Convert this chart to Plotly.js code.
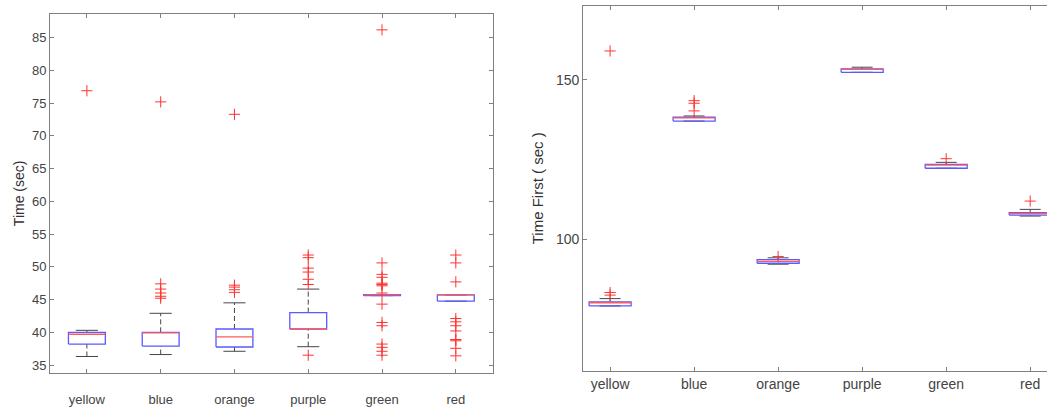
<!DOCTYPE html>
<html><head><meta charset="utf-8">
<script src="https://cdn.plot.ly/plotly-3.0.1.min.js"></script>
<style>html,body{margin:0;padding:0;overflow:hidden;background:#fff}#chart{width:1047px;height:411px}</style>
</head><body><div id="chart"></div>
<script>
// ---- data ----
const categories = ['yellow', 'blue', 'orange', 'purple', 'green', 'red'];

// Left chart: Time (sec)
const timeQ1        = [38.2, 37.9, 37.75, 40.5, 45.6, 44.75];
const timeMedian    = [39.7, 39.9, 39.3, 40.5, 45.7, 45.7];
const timeQ3        = [40.0, 40.0, 40.5, 43.0, 45.75, 45.7];
const timeLowWhisk  = [36.3, 36.6, 37.1, 37.8, 45.6, 44.75];
const timeHighWhisk = [40.3, 42.9, 44.5, 46.6, 45.75, 45.7];
const timeOutliers  = [
  [76.9],
  [75.2, 47.4, 46.6, 46.0, 45.5, 45.2],
  [73.3, 47.2, 46.9, 46.5, 46.1],
  [51.8, 51.4, 49.8, 49.2, 48.1, 47.3, 36.5],
  [86.2, 50.6, 48.85, 48.4, 47.5, 47.3, 47.1, 46.0, 44.3, 41.5, 41.0, 38.2, 37.7, 37.1, 36.5],
  [51.8, 50.6, 47.7, 42.1, 41.6, 41.0, 40.2, 38.9, 38.7, 37.55, 36.4]
];

// Right chart: Time First ( sec )
const firstQ1        = [79.0, 137.0, 92.4, 152.3, 122.2, 107.5];
const firstMedian    = [80.0, 138.0, 93.0, 153.2, 123.2, 108.0];
const firstQ3        = [80.3, 138.2, 93.5, 153.4, 123.4, 108.3];
const firstLowWhisk  = [79.0, 137.0, 92.1, 152.3, 122.2, 107.2];
const firstHighWhisk = [81.3, 138.6, 94.1, 153.9, 124.05, 109.3];
const firstOutliers  = [
  [159.0, 83.2, 82.4],
  [143.4, 142.6, 140.2],
  [94.5],
  [],
  [125.2],
  [111.9]
];

// ---- build ----
function buildTraces(q1, med, q3, lw, uw, outl, xa, ya, boxHalf, capHalf, dash) {
  const bx=[],by=[],mx=[],my=[],wx=[],wy=[],cx=[],cy=[],ox=[],oy=[];
  categories.forEach((c,i)=>{
    bx.push(i-boxHalf,i+boxHalf,i+boxHalf,i-boxHalf,i-boxHalf,null);
    by.push(q1[i],q1[i],q3[i],q3[i],q1[i],null);
    mx.push(i-boxHalf,i+boxHalf,null); my.push(med[i],med[i],null);
    if (uw[i] > q3[i]) { wx.push(i,i,null); wy.push(q3[i],uw[i],null); }
    if (lw[i] < q1[i]) { wx.push(i,i,null); wy.push(lw[i],q1[i],null); }
    cx.push(i-capHalf,i+capHalf,null,i-capHalf,i+capHalf,null);
    cy.push(uw[i],uw[i],null,lw[i],lw[i],null);
    outl[i].forEach(v=>{ox.push(i); oy.push(v);});
  });
  const common = {xaxis:xa, yaxis:ya, mode:'lines', hoverinfo:'skip', showlegend:false};
  return [
    Object.assign({x:wx,y:wy,line:{color:'rgb(70,70,70)',width:1,dash:dash}},common),
    Object.assign({x:cx,y:cy,line:{color:'rgb(70,70,70)',width:1}},common),
    Object.assign({x:bx,y:by,line:{color:'rgb(90,90,255)',width:1.3}},common),
    Object.assign({x:mx,y:my,line:{color:'rgb(255,90,90)',width:1.3}},common),
    {x:ox,y:oy,xaxis:xa,yaxis:ya,mode:'markers',showlegend:false,hoverinfo:'y',
     marker:{symbol:'cross-thin',size:8,color:'rgb(255,50,50)',line:{color:'rgb(255,50,50)',width:1}}}
  ];
}

const traces = [].concat(
  buildTraces(timeQ1,timeMedian,timeQ3,timeLowWhisk,timeHighWhisk,timeOutliers,'x','y',0.25,0.15,'5px,3px'),
  buildTraces(firstQ1,firstMedian,firstQ3,firstLowWhisk,firstHighWhisk,firstOutliers,'x2','y2',0.25,0.125,'solid')
);

const font = {family:'"Liberation Sans", Arial, sans-serif', size:13, color:'#444'};
const axisBase = {showgrid:false, zeroline:false, showline:true, linecolor:'#7f7f7f', linewidth:1,
  ticks:'inside', ticklen:4, tickcolor:'#7f7f7f', tickfont:font, fixedrange:true};

const layout = {
  width:1047, height:411, margin:{l:0,r:0,t:0,b:0}, paper_bgcolor:'#fff', plot_bgcolor:'#fff',
  font:font, showlegend:false,
  xaxis: Object.assign({}, axisBase, {domain:[50/1047, 492.7/1047], range:[-0.5,5.5], anchor:'y',
    tickvals:[0,1,2,3,4,5], ticktext:categories, mirror:'ticks', ticklabelstandoff:14}),
  yaxis: Object.assign({}, axisBase, {domain:[1-373/411, 1-13.7/411], range:[33.78,88.67], anchor:'x',
    tickvals:[35,40,45,50,55,60,65,70,75,80,85], mirror:'ticks',
    title:{text:'Time (sec)', standoff:4, font:{family:font.family,size:14,color:'#333'}}}),
  xaxis2: Object.assign({}, axisBase, {domain:[583.2/1047, 1], range:[-0.32,5.2], anchor:'y2',
    tickvals:[0,1,2,3,4,5], ticktext:categories, mirror:'ticks',
    tickfont:{family:font.family,size:14,color:'#444'}}),
  yaxis2: Object.assign({}, axisBase, {domain:[1-370.8/411, 1-5.7/411], range:[58.65,173.2], anchor:'x2',
    tickvals:[100,150], tickfont:{family:font.family,size:14,color:'#444'},
    title:{text:'Time First ( sec )', font:{family:font.family,size:15,color:'#333'}}})
};

Plotly.newPlot('chart', traces, layout, {displayModeBar:false, staticPlot:true});
</script>
</body></html>
